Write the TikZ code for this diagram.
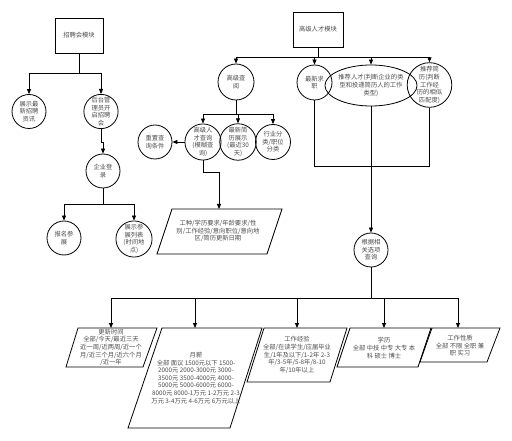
\documentclass[tikz,border=0pt]{standalone}
\usepackage{fontspec}
\newfontfamily\cjk{Noto Sans CJK SC}
\usetikzlibrary{arrows.meta,shapes.geometric}
\newcommand\smallcjk{\cjk\fontsize{6.3}{7.6}\selectfont}

\tikzset{
  wire/.style={line width=0.8pt},
  flow/.style={line width=0.8pt, -{Triangle[length=5pt,width=4pt]}},
  modbox/.style={draw, line width=0.8pt, minimum width=48pt, minimum height=35pt,
    inner sep=0pt, font=\smallcjk, text=black!70},
  topic/.style={draw, circle, line width=0.8pt, minimum size=34pt, inner sep=0pt,
    align=center, font=\smallcjk, text=black!70},
  oval/.style={draw, ellipse, line width=0.8pt, minimum width=77pt, minimum height=41pt,
    inner sep=0pt, align=center, font=\smallcjk, text=black!70},
  paneltext/.style={align=center, inner sep=0pt, font=\smallcjk, text=black!70}
}

\begin{document}
\begin{tikzpicture}[x=1pt,y=-1pt]
\useasboundingbox (0,0) rectangle (512,441);

%%%%% recruitment fair %%%%%
\node[modbox] (recruit) at (79,35.5) {招聘会模块};
\node[topic] (news) at (29,111.5) {展示最\\新招聘\\资讯};
\node[topic] (admin) at (101,111.5) {后台管\\理员开\\启招聘\\会};
\node[topic] (login) at (103,171) {企业登\\录};
\node[topic] (signup) at (64,238) {报名参\\展};
\node[topic] (fairs) at (134,239) {展示参\\展列表\\(时间地\\点)};

\coordinate (recruit-split) at (79,73);
\draw[wire] (recruit.south) -- (recruit-split);
\draw[flow] (recruit-split) -| (news.north);
\draw[flow] (recruit-split) -| (admin.north);
\draw[flow] (admin.south) -- ++(0,13) -| (login.north);

\coordinate (login-split) at (103,204);
\draw[wire] (login.south) -- (login-split);
\draw[flow] (login-split) -| (signup.north);
\draw[flow] (login-split) -| (fairs.north);

%%%%% senior talent %%%%%
\node[modbox, minimum width=50pt] (talent) at (318,29.5) {高级人才模块};
\node[topic, minimum size=36pt] (browse) at (236,82) {高级查\\阅};
\node[topic, minimum size=35pt] (latest) at (314.5,82.5) {最新求\\职};
\node[oval] (match) at (371,85.5) {推荐人才(判断企业的类\\型和投递简历人的工作\\类型)};
\node[topic, minimum size=35pt] (resume) at (429.5,85) {推荐简\\历(判断\\工作经\\历的相似\\匹配度)};

\coordinate (talent-split) at (318,57);
\draw[wire] (talent.south) -- (talent-split);
\draw[flow] (talent-split) -| (browse.north);
\draw[flow] (talent-split) -| (latest.north);
\draw[flow] (talent-split) -| (match.north);
\draw[flow] (talent-split) -| (resume.north);

\node[topic, minimum size=36pt] (fuzzy) at (203,142) {高级人\\才查询\\(模糊查\\询)};
\node[topic, minimum size=36pt] (recent) at (238,142) {最新简\\历展示\\(最近30\\天)};
\node[topic, minimum size=35pt] (sector) at (273,142) {行业分\\类/职位\\分类};
\node[topic] (reset) at (155,142) {重置查\\询条件};

\coordinate (browse-split) at (236,114);
\draw[wire] (browse.south) -- (browse-split);
\draw[flow] (browse-split) -| (fuzzy.north);
\draw[flow] (browse-split) -| (recent.north);
\draw[flow] (browse-split) -| (sector.north);
\draw[flow] (fuzzy.west) -- (reset.east);

\draw[wire] (172,209) -- (282,209) -- (267,254) -- (157,254) -- cycle;
\node[paneltext] (filters) at (218,231) {工种/学历要求/年龄要求/性\\别/工作经验/意向职位/意向地\\区/简历更新日期};
\coordinate (filters-in) at (219,209);
\draw[flow] (fuzzy.south) -- ++(0,12) -| (filters-in);

\coordinate (merge) at (371,166);
\draw[wire] (latest.south) |- (merge);
\draw[wire] (resume.south) |- (merge);
\node[topic] (query) at (371,250) {根据相\\关选项\\查询};
\draw[flow] (match.south) -- (query.north);

%%%%% query options %%%%%
\draw[wire] (78,328) -- (157,328) -- (143,367) -- (66,367) -- cycle;
\node[paneltext] (updated) at (111,347.5) {更新时间\\全部/今天/最近三天\\近一周/近两周/近一个\\月/近三个月/近六个月\\/近一年};

\draw[wire] (162,328) -- (262,328) -- (230,428) -- (128,428) -- cycle;
\node[paneltext] (salary) at (196,378) {月薪\\全部 面议 1500元以下 1500-\\2000元 2000-3000元 3000-\\3500元 3500-4000元 4000-\\5000元 5000-6000元 6000-\\8000元 8000-1万元 1-2万元 2-3\\万元 3-4万元 4-6万元 6万元以上};

\draw[wire] (264,328) -- (347,328) -- (330,382) -- (247,382) -- cycle;
\node[paneltext] (career) at (297,355) {工作经验\\全部/在读学生/应届毕业\\生/1年及以下/1-2年 2-3\\年/3-5年/5-8年/8-10\\年/10年以上};

\draw[wire] (350,328) -- (431,328) -- (418,367) -- (337,367) -- cycle;
\node[paneltext] (degree) at (384,348) {学历\\全部 中技 中专 大专 本\\科 硕士 博士};

\draw[wire] (432,328) -- (500,328) -- (487,362) -- (420,362) -- cycle;
\node[paneltext] (jobtype) at (460,346) {工作性质\\全部 不限 全职 兼\\职 实习};

\coordinate (bus) at (371,298);
\coordinate (updated-in) at (111,328);
\coordinate (salary-in) at (195,328);
\coordinate (career-in) at (297,328);
\coordinate (degree-in) at (384,328);
\coordinate (jobtype-in) at (458,328);
\draw[wire] (query.south) -- (bus);
\draw[flow] (bus) -| (updated-in);
\draw[flow] (bus) -| (salary-in);
\draw[flow] (bus) -| (career-in);
\draw[flow] (bus) -| (degree-in);
\draw[flow] (bus) -| (jobtype-in);

\end{tikzpicture}
\end{document}
